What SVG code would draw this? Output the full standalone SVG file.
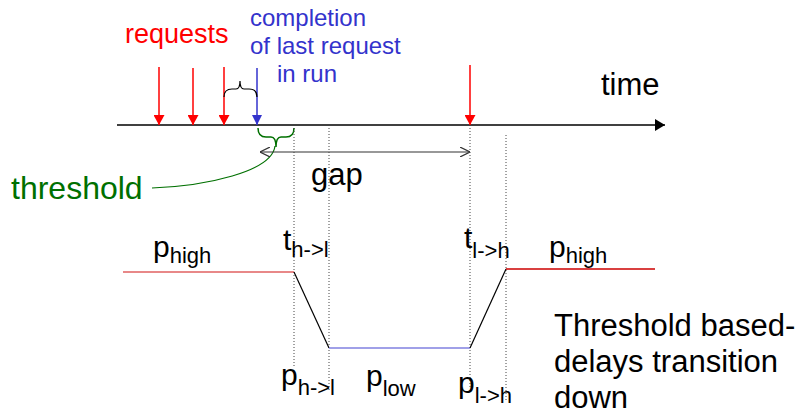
<svg xmlns="http://www.w3.org/2000/svg" width="807" height="415" viewBox="0 0 807 415">
  <style>
    text { font-family: "Liberation Sans", Arial, sans-serif; }
    .lbl { font-size: 30px; fill: #000; }
    .sub { font-size: 22px; }
    .dot { stroke: #444; stroke-width: 1; stroke-dasharray: 1 2; fill: none; }
    .req { stroke: #ff0000; stroke-width: 1.5; marker-end: url(#headRed); }
  </style>
  <defs>
    <marker id="headRed" viewBox="0 0 10 10" refX="10" refY="5" markerWidth="10" markerHeight="11" markerUnits="userSpaceOnUse" orient="auto" preserveAspectRatio="none">
      <path d="M0,0 L10,5 L0,10 z" fill="#ff0000"/>
    </marker>
    <marker id="headBlue" viewBox="0 0 10 10" refX="10" refY="5" markerWidth="10" markerHeight="10" markerUnits="userSpaceOnUse" orient="auto" preserveAspectRatio="none">
      <path d="M0,0 L10,5 L0,10 z" fill="#3333cc"/>
    </marker>
    <marker id="headBlack" viewBox="0 0 10 10" refX="10" refY="5" markerWidth="10" markerHeight="12" markerUnits="userSpaceOnUse" orient="auto" preserveAspectRatio="none">
      <path d="M0,0 L10,5 L0,10 z" fill="#000"/>
    </marker>
    <marker id="openHead" viewBox="0 0 10 10" refX="10" refY="5" markerWidth="10" markerHeight="10" markerUnits="userSpaceOnUse" orient="auto-start-reverse">
      <path d="M0,0 L10,5 L0,10" fill="none" stroke="#333" stroke-width="1.2"/>
    </marker>
  </defs>

  <!-- time axis -->
  <g id="timeline">
    <line x1="117" y1="125" x2="665" y2="125" stroke="#000" stroke-width="1.5" marker-end="url(#headBlack)"/>
    <text x="601" y="95" style="font-size:31px">time</text>
  </g>

  <!-- request arrivals -->
  <g id="requests">
    <text x="125" y="43" fill="#ff0000" style="font-size:27px">requests</text>
    <line class="req" x1="159" y1="67" x2="159" y2="125"/>
    <line class="req" x1="193" y1="68" x2="193" y2="125"/>
    <line class="req" x1="224" y1="67" x2="224" y2="125"/>
    <line class="req" x1="470" y1="65" x2="470" y2="125"/>
  </g>

  <!-- completion of last request -->
  <g id="completion">
    <text fill="#3333cc" style="font-size:24px">
      <tspan x="250" y="26">completion</tspan>
      <tspan x="250" y="54">of last request</tspan>
      <tspan x="277" y="82">in run</tspan>
    </text>
    <line x1="257" y1="68" x2="257" y2="125" stroke="#3333cc" stroke-width="1.5" marker-end="url(#headBlue)"/>
    <path d="M224,97 Q224,89 232,89 L236,89 Q240,89 240,81 Q240,89 244,89 L249,89 Q257,89 257,97" fill="none" stroke="#000" stroke-width="1.2"/>
  </g>

  <!-- threshold brace and callout -->
  <g id="threshold">
    <path d="M258,128 Q258,137 266,137 L271,137 Q276,137 276,147 Q276,137 281,137 L286,137 Q294,137 294,128" fill="none" stroke="#007000" stroke-width="1.5"/>
    <path d="M275,146 C272,172 205,186 152,188" fill="none" stroke="#007000" stroke-width="1.2"/>
    <text x="11" y="199" fill="#007000" style="font-size:32px">threshold</text>
  </g>

  <!-- gap span -->
  <g id="gap">
    <line x1="260" y1="152" x2="470" y2="152" stroke="#333" stroke-width="1.2" marker-start="url(#openHead)" marker-end="url(#openHead)"/>
    <text x="311" y="185" style="font-size:31px">gap</text>
  </g>

  <!-- guide lines -->
  <g id="guides">
    <line class="dot" x1="294" y1="128" x2="294" y2="368"/>
    <line class="dot" x1="329" y1="128" x2="329" y2="390"/>
    <line class="dot" x1="470" y1="125" x2="470" y2="388"/>
    <line class="dot" x1="506" y1="135" x2="506" y2="400"/>
  </g>

  <!-- power levels -->
  <g id="power">
    <line x1="123" y1="272" x2="294" y2="272" stroke="#e06060" stroke-width="1.5"/>
    <line x1="294" y1="272" x2="329" y2="348" stroke="#000" stroke-width="1.2"/>
    <line x1="329" y1="348" x2="470" y2="348" stroke="#8080e0" stroke-width="1.5"/>
    <line x1="470" y1="348" x2="506" y2="269" stroke="#000" stroke-width="1.2"/>
    <line x1="506" y1="269" x2="655" y2="269" stroke="#cc0000" stroke-width="1.5"/>
  </g>

  <!-- level labels -->
  <g id="labels">
    <text class="lbl" x="153" y="257">p<tspan class="sub" dy="6">high</tspan></text>
    <text class="lbl" x="283" y="250">t<tspan class="sub" dy="7">h-&gt;l</tspan></text>
    <text class="lbl" x="464" y="248">t<tspan class="sub" dy="10">l-&gt;h</tspan></text>
    <text class="lbl" x="549" y="257">p<tspan class="sub" dy="6">high</tspan></text>
    <text class="lbl" x="281" y="385">p<tspan class="sub" dy="10">h-&gt;l</tspan></text>
    <text class="lbl" x="366" y="386">p<tspan class="sub" dy="10">low</tspan></text>
    <text class="lbl" x="458" y="393">p<tspan class="sub" dy="10">l-&gt;h</tspan></text>
  </g>

  <!-- note -->
  <g id="note">
    <text style="font-size:31px">
      <tspan x="554" y="336">Threshold based-</tspan>
      <tspan x="554" y="372">delays transition</tspan>
      <tspan x="554" y="408">down</tspan>
    </text>
  </g>
</svg>
